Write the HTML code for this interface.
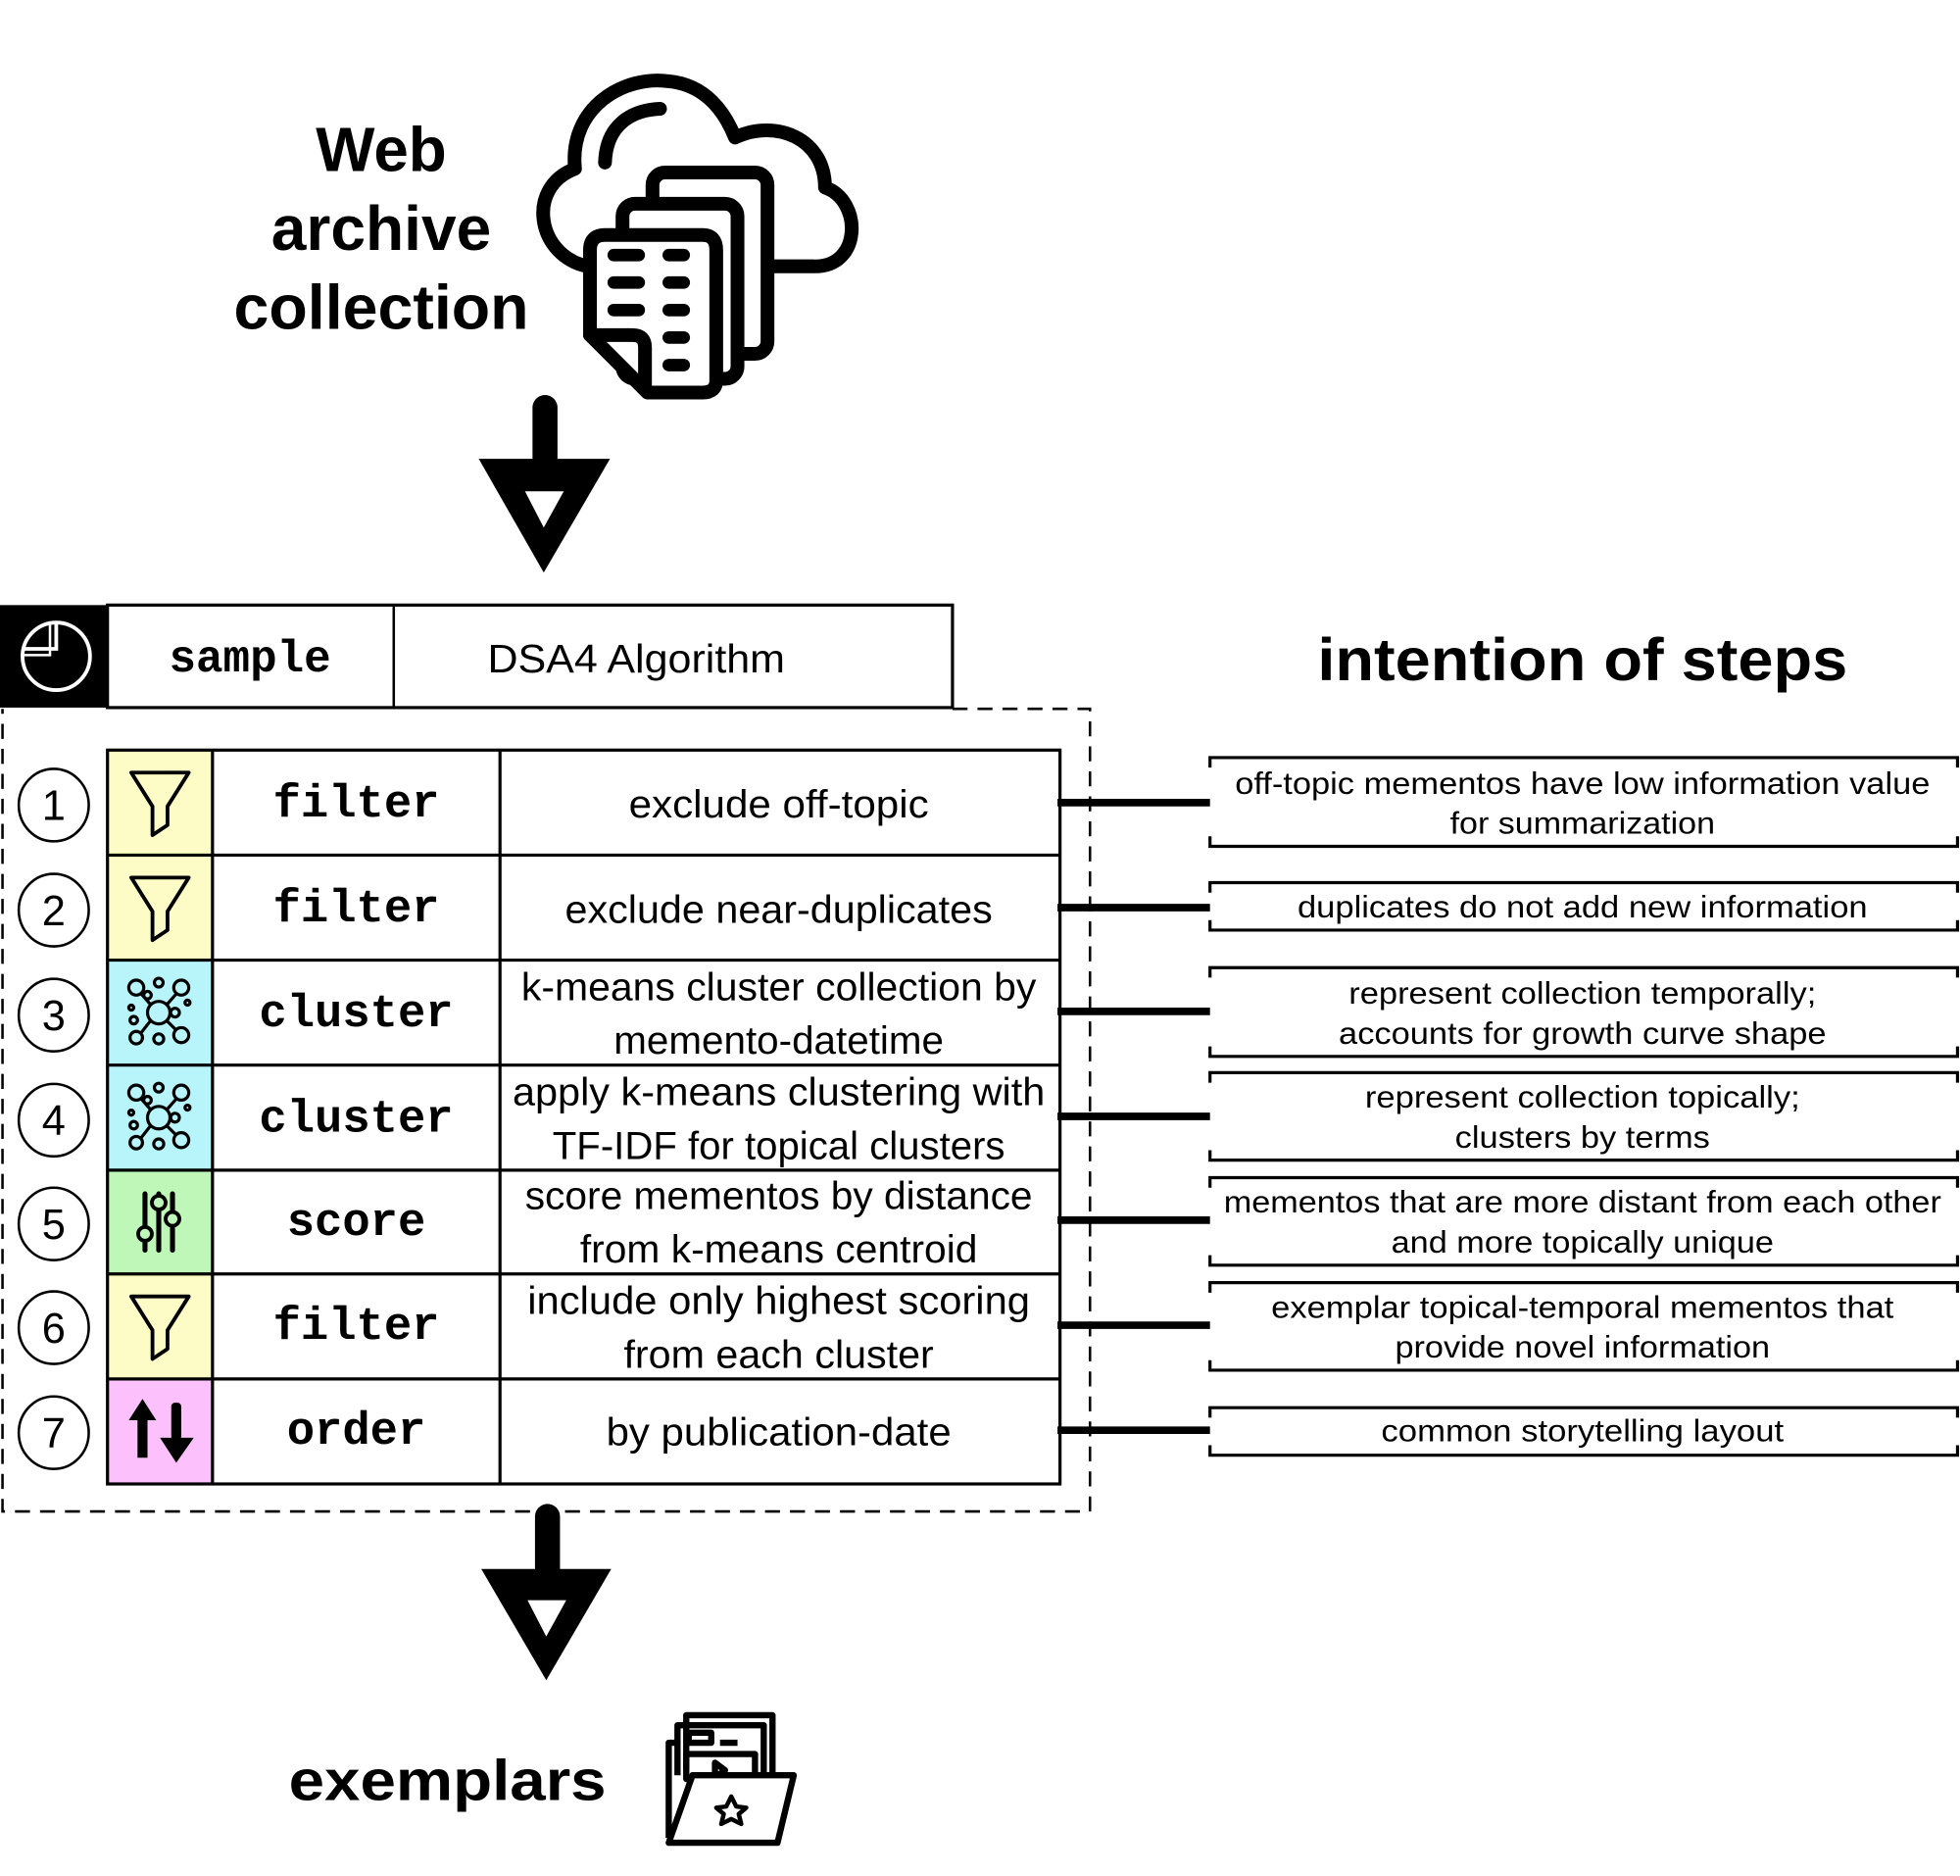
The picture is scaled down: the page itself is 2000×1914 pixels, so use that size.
<!DOCTYPE html>
<html><head><meta charset="utf-8"><style>html,body{margin:0;padding:0;background:#fff}svg{display:block}</style></head>
<body>
<svg width="2000" height="1914" viewBox="0 0 1568 1500.6" preserveAspectRatio="none" xmlns="http://www.w3.org/2000/svg">
<rect width="1568" height="1501" fill="#fff"/>
<g font-family="Liberation Sans, sans-serif" font-weight="bold" text-anchor="middle" fill="#000">
<text x="305" y="137" font-size="50">Web</text>
<text x="305" y="200" font-size="50" textLength="176" lengthAdjust="spacingAndGlyphs">archive</text>
<text x="305" y="263" font-size="50" textLength="236" lengthAdjust="spacingAndGlyphs">collection</text>
<text x="1266" y="544" font-size="48" textLength="424" lengthAdjust="spacingAndGlyphs">intention of steps</text>
<text x="358" y="1440" font-size="46" textLength="254" lengthAdjust="spacingAndGlyphs">exemplars</text>
</g>
<!-- cloud -->
<g fill="none" stroke="#000" stroke-width="11" stroke-linecap="round" stroke-linejoin="round">
<path d="M470 213 C430 205 420 150 460 135 C455 85 500 60 535 65 C565 68 580 90 588 110 C620 95 660 110 660 150 C690 160 690 215 650 213 L612 213"/>
<path d="M484 130 C485 100 505 88 528 87"/>
<rect x="522" y="138" width="92" height="145" rx="10" fill="#fff"/>
<rect x="498" y="163" width="92" height="140" rx="10" fill="#fff"/>
<path d="M472 200 Q472 188 484 188 L562 188 Q573 188 573 200 L573 304 Q573 314 562 314 L518 314 L472 268 Z" fill="#fff"/>
<path d="M472 268 L506 268 Q516 268 516 278 L516 312"/>
</g>
<g stroke="#000" stroke-width="10" stroke-linecap="round">
<line x1="491" y1="204" x2="511" y2="204"/><line x1="535" y1="204" x2="547" y2="204"/>
<line x1="491" y1="226" x2="511" y2="226"/><line x1="535" y1="226" x2="547" y2="226"/>
<line x1="491" y1="248" x2="511" y2="248"/><line x1="535" y1="248" x2="547" y2="248"/>
<line x1="535" y1="270" x2="547" y2="270"/><line x1="535" y1="292" x2="547" y2="292"/>
</g>
<!-- arrow 1 -->
<rect x="426" y="316" width="20" height="60" rx="10" fill="#000"/>
<polygon points="383,367 488,367 435,458" fill="#000"/>
<polygon points="420,393 451,393 435,422" fill="#fff"/>
<!-- header -->
<rect x="0" y="484" width="86" height="82" fill="#000"/>
<circle cx="45" cy="525" r="27" fill="none" stroke="#fff" stroke-width="3"/>
<path d="M45 498 L45 519 L18 519" fill="none" stroke="#fff" stroke-width="3"/>
<path d="M40 498 L40 524 L18 524" fill="none" stroke="#fff" stroke-width="2"/>
<rect x="86" y="484" width="676" height="82" fill="#fff" stroke="#000" stroke-width="2.5"/>
<line x1="315" y1="484" x2="315" y2="566" stroke="#000" stroke-width="2"/>
<text x="200" y="537" font-family="Liberation Mono, monospace" font-weight="bold" font-size="36" text-anchor="middle">sample</text>
<text x="509" y="538" font-family="Liberation Sans, sans-serif" font-size="32" text-anchor="middle" textLength="238" lengthAdjust="spacingAndGlyphs">DSA4 Algorithm</text>
<!-- dashed box -->
<path d="M762 567 L872 567 L872 1209 L2 1209 L2 567" fill="none" stroke="#000" stroke-width="2" stroke-dasharray="12,8"/>
<!-- table rows -->
<rect x="86" y="600" width="84" height="84" fill="#fdfcc6"/>
<rect x="86" y="684" width="84" height="84" fill="#fdfcc6"/>
<rect x="86" y="768" width="84" height="84" fill="#b8f5fb"/>
<rect x="86" y="852" width="84" height="84" fill="#b8f5fb"/>
<rect x="86" y="936" width="84" height="83" fill="#bef7b8"/>
<rect x="86" y="1019" width="84" height="84" fill="#fdfcc6"/>
<rect x="86" y="1103" width="84" height="84" fill="#fcc0fc"/>
<g fill="none" stroke="#000" stroke-width="2.5">
<rect x="86" y="600" width="762" height="587"/>
<line x1="86" y1="684" x2="848" y2="684"/><line x1="86" y1="768" x2="848" y2="768"/>
<line x1="86" y1="852" x2="848" y2="852"/><line x1="86" y1="936" x2="848" y2="936"/>
<line x1="86" y1="1019" x2="848" y2="1019"/><line x1="86" y1="1103" x2="848" y2="1103"/>
<line x1="170" y1="600" x2="170" y2="1187"/><line x1="400" y1="600" x2="400" y2="1187"/>
</g>
<!-- funnel icons -->
<g fill="none" stroke="#000" stroke-width="3" stroke-linejoin="round">
<path d="M105 618 L151 618 L134 645 L134 660 L122 668 L122 645 Z"/>
<path d="M105 702 L151 702 L134 729 L134 744 L122 752 L122 729 Z"/>
<path d="M105 1037 L151 1037 L134 1064 L134 1079 L122 1087 L122 1064 Z"/>
</g>
<!-- cluster icons -->
<g fill="none" stroke="#000" stroke-width="2.5">
<g id="cl">
<circle cx="127" cy="810" r="9"/>
<circle cx="109" cy="790" r="6"/><circle cx="145" cy="790" r="6"/><circle cx="109" cy="830" r="5"/><circle cx="145" cy="828" r="6"/>
<circle cx="127" cy="786" r="3.5"/><circle cx="118" cy="796" r="3"/><circle cx="105" cy="806" r="2"/><circle cx="107" cy="816" r="3"/>
<circle cx="140" cy="810" r="3.5"/><circle cx="150" cy="802" r="2"/><circle cx="127" cy="831" r="4"/>
<line x1="113" y1="795" x2="120" y2="803"/><line x1="141" y1="795" x2="134" y2="803"/><line x1="113" y1="826" x2="120" y2="817"/><line x1="141" y1="824" x2="134" y2="817"/>
</g>
<use href="#cl" y="84"/>
</g>
<!-- score icon -->
<g stroke="#000" stroke-width="4" stroke-linecap="round" fill="none">
<line x1="116" y1="955" x2="116" y2="1000"/><line x1="127" y1="955" x2="127" y2="1000"/><line x1="138" y1="955" x2="138" y2="1000"/>
</g>
<g stroke="#000" stroke-width="3" fill="#bef7b8"><circle cx="116" cy="987" r="5.5"/><circle cx="127" cy="962" r="5.5"/><circle cx="138" cy="975" r="5.5"/></g>
<!-- order icon -->
<g fill="#000">
<polygon points="103,1136 114,1119 125,1136 118,1136 118,1166 110,1166 110,1136"/>
<polygon points="128,1150 155,1150 141,1170"/>
<rect x="137" y="1122" width="8" height="30" rx="3"/>
</g>
<!-- circles numbers -->
<g fill="#fff" stroke="#000" stroke-width="2">
<ellipse cx="43" cy="644" rx="28" ry="29"/><ellipse cx="43" cy="728" rx="28" ry="29"/><ellipse cx="43" cy="812" rx="28" ry="29"/>
<ellipse cx="43" cy="896" rx="28" ry="29"/><ellipse cx="43" cy="979" rx="28" ry="29"/><ellipse cx="43" cy="1062" rx="28" ry="29"/><ellipse cx="43" cy="1146" rx="28" ry="29"/>
</g>
<g font-family="Liberation Sans, sans-serif" font-size="34" text-anchor="middle">
<text x="43" y="656">1</text><text x="43" y="740">2</text><text x="43" y="824">3</text><text x="43" y="908">4</text><text x="43" y="991">5</text><text x="43" y="1074">6</text><text x="43" y="1158">7</text>
</g>
<g font-family="Liberation Mono, monospace" font-weight="bold" font-size="37" text-anchor="middle">
<text x="285" y="653">filter</text><text x="285" y="737">filter</text><text x="285" y="821">cluster</text><text x="285" y="905">cluster</text>
<text x="285" y="988">score</text><text x="285" y="1071">filter</text><text x="285" y="1155">order</text>
</g>
<g font-family="Liberation Sans, sans-serif" font-size="31" text-anchor="middle">
<text x="623" y="654" textLength="240" lengthAdjust="spacingAndGlyphs">exclude off-topic</text>
<text x="623" y="738" textLength="342" lengthAdjust="spacingAndGlyphs">exclude near-duplicates</text>
<text x="623" y="800" textLength="412" lengthAdjust="spacingAndGlyphs">k-means cluster collection by</text>
<text x="623" y="843" textLength="264" lengthAdjust="spacingAndGlyphs">memento-datetime</text>
<text x="623" y="884" textLength="426" lengthAdjust="spacingAndGlyphs">apply k-means clustering with</text>
<text x="623" y="927" textLength="362" lengthAdjust="spacingAndGlyphs">TF-IDF for topical clusters</text>
<text x="623" y="967" textLength="406" lengthAdjust="spacingAndGlyphs">score mementos by distance</text>
<text x="623" y="1010" textLength="318" lengthAdjust="spacingAndGlyphs">from k-means centroid</text>
<text x="623" y="1051" textLength="402" lengthAdjust="spacingAndGlyphs">include only highest scoring</text>
<text x="623" y="1094" textLength="248" lengthAdjust="spacingAndGlyphs">from each cluster</text>
<text x="623" y="1156" textLength="276" lengthAdjust="spacingAndGlyphs">by publication-date</text>
</g>
<!-- connectors -->
<g stroke="#000" stroke-width="6">
<line x1="846" y1="642" x2="968" y2="642"/><line x1="846" y1="726" x2="968" y2="726"/><line x1="846" y1="809" x2="968" y2="809"/>
<line x1="846" y1="893" x2="968" y2="893"/><line x1="846" y1="976" x2="968" y2="976"/><line x1="846" y1="1060" x2="968" y2="1060"/><line x1="846" y1="1144" x2="968" y2="1144"/>
</g>
<!-- bracket boxes -->
<g fill="none" stroke="#000" stroke-width="2.5">
<path d="M968 614 L968 606 L1566 606 L1566 614 M968 669 L968 677 L1566 677 L1566 669"/>
<path d="M968 714 L968 706 L1566 706 L1566 714 M968 736 L968 744 L1566 744 L1566 736"/>
<path d="M968 782 L968 774 L1566 774 L1566 782 M968 837 L968 845 L1566 845 L1566 837"/>
<path d="M968 866 L968 858 L1566 858 L1566 866 M968 920 L968 928 L1566 928 L1566 920"/>
<path d="M968 950 L968 942 L1566 942 L1566 950 M968 1004 L968 1012 L1566 1012 L1566 1004"/>
<path d="M968 1034 L968 1026 L1566 1026 L1566 1034 M968 1088 L968 1096 L1566 1096 L1566 1088"/>
<path d="M968 1134 L968 1126 L1566 1126 L1566 1134 M968 1156 L968 1164 L1566 1164 L1566 1156"/>
</g>
<g font-family="Liberation Sans, sans-serif" font-size="24.5" text-anchor="middle">
<text x="1266" y="635" textLength="556" lengthAdjust="spacingAndGlyphs">off-topic mementos have low information value</text>
<text x="1266" y="667" textLength="212" lengthAdjust="spacingAndGlyphs">for summarization</text>
<text x="1266" y="734" textLength="456" lengthAdjust="spacingAndGlyphs">duplicates do not add new information</text>
<text x="1266" y="803" textLength="374" lengthAdjust="spacingAndGlyphs">represent collection temporally;</text>
<text x="1266" y="835" textLength="390" lengthAdjust="spacingAndGlyphs">accounts for growth curve shape</text>
<text x="1266" y="886" textLength="348" lengthAdjust="spacingAndGlyphs">represent collection topically;</text>
<text x="1266" y="918" textLength="204" lengthAdjust="spacingAndGlyphs">clusters by terms</text>
<text x="1266" y="970" textLength="574" lengthAdjust="spacingAndGlyphs">mementos that are more distant from each other</text>
<text x="1266" y="1002" textLength="306" lengthAdjust="spacingAndGlyphs">and more topically unique</text>
<text x="1266" y="1054" textLength="498" lengthAdjust="spacingAndGlyphs">exemplar topical-temporal mementos that</text>
<text x="1266" y="1086" textLength="300" lengthAdjust="spacingAndGlyphs">provide novel information</text>
<text x="1266" y="1153" textLength="322" lengthAdjust="spacingAndGlyphs">common storytelling layout</text>
</g>
<!-- arrow 2 -->
<rect x="428" y="1203" width="20" height="62" rx="10" fill="#000"/>
<polygon points="385,1255 489,1255 437,1344" fill="#000"/>
<polygon points="422,1280 453,1280 437,1309" fill="#fff"/>
<!-- folder icon -->
<g fill="none" stroke="#000" stroke-width="5" stroke-linejoin="round">
<path d="M549 1415 L549 1372 L618 1372 L618 1420"/>
<path d="M542 1420 L542 1380 L611 1380 L611 1420"/>
<path d="M535 1470 L535 1394 L542 1394"/>
<rect x="551" y="1386" width="18" height="8"/>
<line x1="576" y1="1394" x2="590" y2="1394"/>
<rect x="549" y="1403" width="55" height="20"/>
<path d="M572 1410 L580 1416 L572 1422 Z"/>
<path d="M554 1420 L635 1420 L622 1474 L535 1474 Z" fill="#fff"/>
<path d="M585 1437 L589 1445 L597 1446 L591 1451 L593 1459 L585 1455 L577 1459 L579 1451 L573 1446 L581 1445 Z" stroke-width="3.5"/>
</g>
</svg>
</body></html>
